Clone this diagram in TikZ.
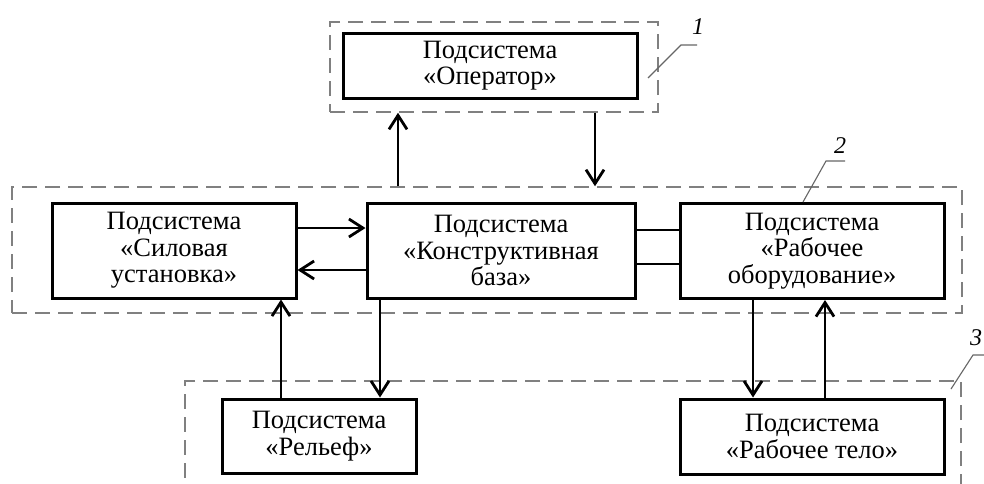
\documentclass[tikz,border=0pt]{standalone}
\usepackage{fontspec}
\setmainfont{Liberation Serif}
\usetikzlibrary{arrows.meta}
\begin{document}
\begin{tikzpicture}[x=1pt,y=-1pt,
  box/.style={draw, line width=3pt, inner sep=0pt, align=center,
    font=\fontsize{26.5}{26.5}\selectfont},
  group/.style={draw=black!50, line width=1.5pt, dash pattern=on 15pt off 8pt, inner sep=0pt},
  arr/.style={line width=2.8pt, -{Straight Barb[length=14pt,width=18pt,line width=2.8pt]}},
  link/.style={line width=2.8pt},
  leader/.style={draw=black!60, line width=1.1pt},
  lbl/.style={font=\fontsize{24}{26}\selectfont\itshape, inner sep=0pt}]
\clip (0,0) rectangle (984,483);
\fill[white] (0,0) rectangle (984,483);
% groups
\node[group, minimum width=328pt, minimum height=90pt] (g1) at (494,67) {};
\node[group, minimum width=950pt, minimum height=126pt] (g2) at (487,250) {};
\node[group, minimum width=776pt, minimum height=160pt] (g3) at (573,461) {};
% boxes
\node[box, minimum width=294pt, minimum height=65pt] (op) at (490,65.5) {Подсистема\\«Оператор»};
\node[box, minimum width=244pt, minimum height=95pt] (sil) at (174,250.5) {Подсистема\\«Силовая\\установка»};
\node[box, minimum width=268pt, minimum height=95pt] (kon) at (501,250.5) {Подсистема\\«Конструктивная\\база»};
\node[box, minimum width=264pt, minimum height=95pt] (rab) at (812,251) {Подсистема\\«Рабочее\\оборудование»};
\node[box, minimum width=194pt, minimum height=74pt] (rel) at (319,436) {Подсистема\\«Рельеф»};
\node[box, minimum width=264pt, minimum height=75pt] (rt) at (812,436.5) {Подсистема\\«Рабочее тело»};
% connectors
\draw[arr] (g2.north -| 398,0) -- (g1.south -| 398,0);
\draw[arr] (g1.south -| 595,0) -- (g2.north -| 595,0);
\draw[arr] (sil.east |- 0,228) -- (kon.west |- 0,228);
\draw[arr] (kon.west |- 0,270) -- (sil.east |- 0,270);
\draw[link] (kon.east |- 0,230) -- (rab.west |- 0,230);
\draw[link] (kon.east |- 0,264) -- (rab.west |- 0,264);
\draw[arr] (rel.north -| 281,0) -- (sil.south -| 281,0);
\draw[arr] (kon.south -| 380,0) -- (rel.north -| 380,0);
\draw[arr] (rab.south -| 753,0) -- (rt.north -| 753,0);
\draw[arr] (rt.north -| 825,0) -- (rab.south -| 825,0);
% labels
\coordinate (l1a) at (648,78);
\coordinate (l1b) at (681,45);
\coordinate (l1c) at (697,45);
\draw[leader] (l1a) -- (l1b) -- (l1c);
\node[lbl] (n1) at (698,27) {1};
\coordinate (l2a) at (803,202);
\coordinate (l2b) at (826,161);
\coordinate (l2c) at (845,161);
\draw[leader] (l2a) -- (l2b) -- (l2c);
\node[lbl] (n2) at (840,146) {2};
\coordinate (l3a) at (951,389);
\coordinate (l3b) at (973,355);
\coordinate (l3c) at (992,355);
\draw[leader] (l3a) -- (l3b) -- (l3c);
\node[lbl] (n3) at (976,338) {3};
\end{tikzpicture}
\end{document}
